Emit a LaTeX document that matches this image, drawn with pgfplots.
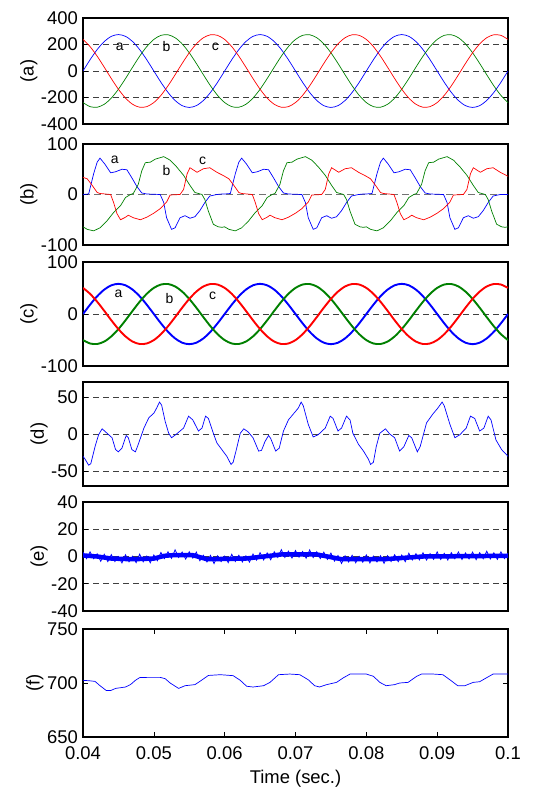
\documentclass[border=0pt]{standalone}
\usepackage{fontspec}
\setmainfont{Liberation Sans}
\usepackage{pgfplots}
\usepackage{pgfplotstable}
\pgfplotsset{compat=1.18}

\definecolor{pha}{RGB}{0,0,255}
\definecolor{phb}{RGB}{0,128,0}
\definecolor{phc}{RGB}{255,0,0}

% (a) source voltages, three phases
\pgfplotstableread{
t a b c
0.040 0 -238.2 238.2
0.041 85.0 -269.0 184.0
0.042 161.6 -273.5 111.8
0.043 222.5 -251.2 28.7
0.044 261.5 -204.4 -57.2
0.045 275.0 -137.5 -137.5
0.046 261.5 -57.2 -204.4
0.047 222.5 28.7 -251.2
0.048 161.6 111.8 -273.5
0.049 85.0 184.0 -269.0
0.050 0 238.2 -238.2
0.051 -85.0 269.0 -184.0
0.052 -161.6 273.5 -111.8
0.053 -222.5 251.2 -28.7
0.054 -261.5 204.4 57.2
0.055 -275.0 137.5 137.5
0.056 -261.5 57.2 204.4
0.057 -222.5 -28.7 251.2
0.058 -161.6 -111.8 273.5
0.059 -85.0 -184.0 269.0
0.060 0 -238.2 238.2
0.061 85.0 -269.0 184.0
0.062 161.6 -273.5 111.8
0.063 222.5 -251.2 28.7
0.064 261.5 -204.4 -57.2
0.065 275.0 -137.5 -137.5
0.066 261.5 -57.2 -204.4
0.067 222.5 28.7 -251.2
0.068 161.6 111.8 -273.5
0.069 85.0 184.0 -269.0
0.070 0 238.2 -238.2
0.071 -85.0 269.0 -184.0
0.072 -161.6 273.5 -111.8
0.073 -222.5 251.2 -28.7
0.074 -261.5 204.4 57.2
0.075 -275.0 137.5 137.5
0.076 -261.5 57.2 204.4
0.077 -222.5 -28.7 251.2
0.078 -161.6 -111.8 273.5
0.079 -85.0 -184.0 269.0
0.080 0 -238.2 238.2
0.081 85.0 -269.0 184.0
0.082 161.6 -273.5 111.8
0.083 222.5 -251.2 28.7
0.084 261.5 -204.4 -57.2
0.085 275.0 -137.5 -137.5
0.086 261.5 -57.2 -204.4
0.087 222.5 28.7 -251.2
0.088 161.6 111.8 -273.5
0.089 85.0 184.0 -269.0
0.090 0 238.2 -238.2
0.091 -85.0 269.0 -184.0
0.092 -161.6 273.5 -111.8
0.093 -222.5 251.2 -28.7
0.094 -261.5 204.4 57.2
0.095 -275.0 137.5 137.5
0.096 -261.5 57.2 204.4
0.097 -222.5 -28.7 251.2
0.098 -161.6 -111.8 273.5
0.099 -85.0 -184.0 269.0
0.100 0 -238.2 238.2
}\tabA

% (c) source currents after compensation
\pgfplotstableread{
t a b c
0.040 0 -50.2 50.2
0.041 17.9 -56.7 38.8
0.042 34.1 -57.7 23.6
0.043 46.9 -53.0 6.1
0.044 55.2 -43.1 -12.1
0.045 58.0 -29.0 -29.0
0.046 55.2 -12.1 -43.1
0.047 46.9 6.1 -53.0
0.048 34.1 23.6 -57.7
0.049 17.9 38.8 -56.7
0.050 0 50.2 -50.2
0.051 -17.9 56.7 -38.8
0.052 -34.1 57.7 -23.6
0.053 -46.9 53.0 -6.1
0.054 -55.2 43.1 12.1
0.055 -58.0 29.0 29.0
0.056 -55.2 12.1 43.1
0.057 -46.9 -6.1 53.0
0.058 -34.1 -23.6 57.7
0.059 -17.9 -38.8 56.7
0.060 0 -50.2 50.2
0.061 17.9 -56.7 38.8
0.062 34.1 -57.7 23.6
0.063 46.9 -53.0 6.1
0.064 55.2 -43.1 -12.1
0.065 58.0 -29.0 -29.0
0.066 55.2 -12.1 -43.1
0.067 46.9 6.1 -53.0
0.068 34.1 23.6 -57.7
0.069 17.9 38.8 -56.7
0.070 0 50.2 -50.2
0.071 -17.9 56.7 -38.8
0.072 -34.1 57.7 -23.6
0.073 -46.9 53.0 -6.1
0.074 -55.2 43.1 12.1
0.075 -58.0 29.0 29.0
0.076 -55.2 12.1 43.1
0.077 -46.9 -6.1 53.0
0.078 -34.1 -23.6 57.7
0.079 -17.9 -38.8 56.7
0.080 0 -50.2 50.2
0.081 17.9 -56.7 38.8
0.082 34.1 -57.7 23.6
0.083 46.9 -53.0 6.1
0.084 55.2 -43.1 -12.1
0.085 58.0 -29.0 -29.0
0.086 55.2 -12.1 -43.1
0.087 46.9 6.1 -53.0
0.088 34.1 23.6 -57.7
0.089 17.9 38.8 -56.7
0.090 0 50.2 -50.2
0.091 -17.9 56.7 -38.8
0.092 -34.1 57.7 -23.6
0.093 -46.9 53.0 -6.1
0.094 -55.2 43.1 12.1
0.095 -58.0 29.0 29.0
0.096 -55.2 12.1 43.1
0.097 -46.9 -6.1 53.0
0.098 -34.1 -23.6 57.7
0.099 -17.9 -38.8 56.7
0.100 0 -50.2 50.2
}\tabC

\tikzset{tag/.style={font=\fontsize{14}{16}\selectfont, inner sep=0pt, anchor=center}}

\pgfplotsset{
  panel/.style={
    scale only axis,
    width=425bp,
    xmin=0.04, xmax=0.1,
    axis line style={line width=1.1bp},
    every tick/.style={black, line width=0.6bp},
    major tick length=5bp,
    tick align=inside,
    xtick=\empty,
    ymajorgrids,
    major grid style={black!75, line width=0.7bp, dash pattern=on 6bp off 4bp},
    tick label style={font=\fontsize{18.5}{20}\selectfont},
    yticklabel style={inner sep=0pt, xshift=-5bp},
    ylabel style={font=\fontsize{18.5}{20}\selectfont},
    clip=true,
  },
}

\begin{document}
\begin{tikzpicture}
\path[use as bounding box] (0,0) rectangle (560bp,-790bp);

% ---------------- (a)
\begin{axis}[panel, at={(83bp,-18bp)}, anchor=north west, height=106bp,
  ymin=-400, ymax=400, ytick={-400,-200,0,200,400},
  yticklabels={-400,-200,0,200,400}, ylabel={(a)}]
\addplot[pha, line width=0.7bp, smooth] table[x=t, y=a] {\tabA};
\addplot[phb, line width=0.7bp, smooth] table[x=t, y=b] {\tabA};
\addplot[phc, line width=0.7bp, smooth] table[x=t, y=c] {\tabA};
\node[tag] at (axis cs:0.0452,185) {a};
\node[tag] at (axis cs:0.0518,185) {b};
\node[tag] at (axis cs:0.0587,185) {c};
\end{axis}

% ---------------- (b)
\begin{axis}[panel, at={(83bp,-144bp)}, anchor=north west, height=101bp,
  ymin=-100, ymax=100, ytick={-100,0,100},
  yticklabels={-100,0,100}, ylabel={(b)},
  major grid style={black!55, line width=1.2bp, dash pattern=on 7bp off 4bp}]
\addplot[pha, line width=0.7bp] coordinates {
(0.0400,0)(0.0408,1)(0.0415,41)(0.0420,64)(0.0424,72)(0.0431,60)(0.0439,43)(0.0446,45)
(0.0455,50)(0.0462,49)(0.0469,33)(0.0476,16)(0.0483,3)(0.0490,1)(0.0509,0)(0.0514,-16)
(0.0518,-46)(0.0525,-69)(0.0530,-66)(0.0537,-46)(0.0544,-42)(0.0551,-47)(0.0558,-44)
(0.0565,-32)(0.0572,-16)(0.0579,-3)(0.0589,0)(0.0596,1)
(0.0600,1)(0.0608,2)(0.0615,41)(0.0620,64)(0.0624,72)(0.0631,60)(0.0639,43)(0.0646,45)
(0.0655,50)(0.0662,49)(0.0669,33)(0.0676,16)(0.0683,3)(0.0690,1)(0.0709,0)(0.0714,-16)
(0.0718,-46)(0.0725,-69)(0.0730,-66)(0.0737,-46)(0.0744,-42)(0.0751,-47)(0.0758,-44)
(0.0765,-32)(0.0772,-16)(0.0779,-3)(0.0789,0)(0.0796,1)
(0.0800,1)(0.0808,2)(0.0815,41)(0.0820,64)(0.0824,72)(0.0831,60)(0.0839,43)(0.0846,45)
(0.0855,50)(0.0862,49)(0.0869,33)(0.0876,16)(0.0883,3)(0.0890,1)(0.0909,0)(0.0914,-16)
(0.0918,-46)(0.0925,-69)(0.0930,-66)(0.0937,-46)(0.0944,-42)(0.0951,-47)(0.0958,-44)
(0.0965,-32)(0.0972,-16)(0.0979,-3)(0.0989,0)(0.1000,0)
};
\addplot[phb, line width=0.7bp] coordinates {
(0.0400,-64)(0.0406,-69)(0.0415,-72)(0.0424,-66)(0.0434,-52)(0.0443,-36)(0.0453,-22)
(0.0460,-6)(0.0467,0)(0.0471,2)(0.0478,20)(0.0483,47)(0.0488,63)(0.0495,64)(0.0502,70)
(0.0514,75)(0.0523,68)(0.0532,55)(0.0542,38)(0.0551,18)(0.0558,4)(0.0568,0)(0.0572,-10)
(0.0577,-33)(0.0584,-59)(0.0591,-64)(0.0596,-65)
(0.0600,-64)(0.0606,-69)(0.0615,-72)(0.0624,-66)(0.0634,-52)(0.0643,-36)(0.0653,-22)
(0.0660,-6)(0.0667,0)(0.0671,2)(0.0678,20)(0.0683,47)(0.0688,63)(0.0695,64)(0.0702,70)
(0.0714,75)(0.0723,68)(0.0732,55)(0.0742,38)(0.0751,18)(0.0758,4)(0.0768,0)(0.0772,-10)
(0.0777,-33)(0.0784,-59)(0.0791,-64)(0.0796,-65)
(0.0800,-64)(0.0806,-69)(0.0815,-72)(0.0824,-66)(0.0834,-52)(0.0843,-36)(0.0853,-22)
(0.0860,-6)(0.0867,0)(0.0871,2)(0.0878,20)(0.0883,47)(0.0888,63)(0.0895,64)(0.0902,70)
(0.0914,75)(0.0923,68)(0.0932,55)(0.0942,38)(0.0951,18)(0.0958,4)(0.0968,0)(0.0972,-10)
(0.0977,-33)(0.0984,-59)(0.0991,-64)(0.0996,-65)(0.1000,-64)
};
\addplot[phc, line width=0.7bp] coordinates {
(0.0400,34)(0.0406,31)(0.0413,18)(0.0420,4)(0.0424,2)(0.0439,0)(0.0443,-15)(0.0448,-38)
(0.0453,-50)(0.0460,-45)(0.0464,-41)(0.0471,-46)(0.0481,-50)(0.0490,-45)(0.0500,-37)
(0.0509,-28)(0.0518,-15)(0.0523,-1)(0.0537,0)(0.0542,10)(0.0547,41)(0.0551,53)(0.0561,44)
(0.0570,51)(0.0579,53)(0.0589,44)(0.0596,39)
(0.0600,36)(0.0606,31)(0.0613,18)(0.0620,4)(0.0624,2)(0.0639,0)(0.0643,-15)(0.0648,-38)
(0.0653,-50)(0.0660,-45)(0.0664,-41)(0.0671,-46)(0.0681,-50)(0.0690,-45)(0.0700,-37)
(0.0709,-28)(0.0718,-15)(0.0723,-1)(0.0737,0)(0.0742,10)(0.0747,41)(0.0751,53)(0.0761,44)
(0.0770,51)(0.0779,53)(0.0789,44)(0.0796,39)
(0.0800,36)(0.0806,31)(0.0813,18)(0.0820,4)(0.0824,2)(0.0839,0)(0.0843,-15)(0.0848,-38)
(0.0853,-50)(0.0860,-45)(0.0864,-41)(0.0871,-46)(0.0881,-50)(0.0890,-45)(0.0900,-37)
(0.0909,-28)(0.0918,-15)(0.0923,-1)(0.0937,0)(0.0942,10)(0.0947,41)(0.0951,53)(0.0961,44)
(0.0970,51)(0.0979,53)(0.0989,44)(0.0996,39)(0.1000,36)
};
\node[tag] at (axis cs:0.0445,69) {a};
\node[tag] at (axis cs:0.0518,48) {b};
\node[tag] at (axis cs:0.0569,66) {c};
\end{axis}

% ---------------- (c)
\begin{axis}[panel, at={(83bp,-262bp)}, anchor=north west, height=104bp,
  ymin=-100, ymax=100, ytick={-100,0,100},
  yticklabels={-100,0,100}, ylabel={(c)}]
\addplot[pha, line width=1.9bp, smooth] table[x=t, y=a] {\tabC};
\addplot[phb, line width=1.9bp, smooth] table[x=t, y=b] {\tabC};
\addplot[phc, line width=1.9bp, smooth] table[x=t, y=c] {\tabC};
\node[tag] at (axis cs:0.0450,39) {a};
\node[tag] at (axis cs:0.0522,30) {b};
\node[tag] at (axis cs:0.0583,35) {c};
\end{axis}

% ---------------- (d)
\begin{axis}[panel, at={(83bp,-382bp)}, anchor=north west, height=104bp,
  ymin=-70, ymax=70, ytick={-50,0,50},
  yticklabels={-50,0,50}, ylabel={(d)}]
\addplot[pha, line width=0.7bp] coordinates {
(0.0400,-30)(0.0403,-34)(0.0408,-42)(0.0411,-40)(0.0417,-17)(0.0422,-1)(0.0427,7)
(0.0434,1)(0.0441,-5)(0.0446,-21)(0.0450,-24)(0.0455,-19)(0.0461,-2)(0.0464,-5)
(0.0469,-21)(0.0474,-24)(0.0478,-14)(0.0486,8)(0.0493,22)(0.0500,28)(0.0504,35)
(0.0508,43)(0.0511,39)(0.0516,17)(0.0521,1)(0.0525,-5)(0.0532,0)(0.0542,8)(0.0549,24)
(0.0555,19)(0.0563,4)(0.0568,8)(0.0573,24)(0.0577,21)(0.0584,1)(0.0589,-12)(0.0596,-21)
(0.0603,-30)(0.0609,-41)(0.0612,-38)(0.0617,-19)(0.0622,1)(0.0627,7)(0.0633,3)(0.0640,-5)
(0.0648,-23)(0.0652,-22)(0.0657,-10)(0.0662,-2)(0.0665,-6)(0.0672,-23)(0.0677,-19)
(0.0683,4)(0.0690,19)(0.0697,27)(0.0704,35)(0.0708,43)(0.0711,38)(0.0718,13)(0.0725,-4)
(0.0732,-1)(0.0742,8)(0.0749,24)(0.0753,21)(0.0760,4)(0.0765,8)(0.0772,24)(0.0777,19)
(0.0781,1)(0.0789,-14)(0.0796,-23)(0.0803,-34)(0.0806,-41)(0.0810,-38)(0.0814,-17)
(0.0819,1)(0.0827,7)(0.0833,0)(0.0840,-5)(0.0847,-23)(0.0853,-17)(0.0860,-2)(0.0864,-5)
(0.0872,-24)(0.0876,-17)(0.0885,15)(0.0894,27)(0.0901,35)(0.0907,43)(0.0910,38)
(0.0918,13)(0.0925,-5)(0.0932,-1)(0.0941,8)(0.0947,24)(0.0953,21)(0.0960,4)(0.0966,8)
(0.0972,24)(0.0976,19)(0.0983,-8)(0.0991,-21)(0.1000,-30)
};
\end{axis}

% ---------------- (e)
\begin{axis}[panel, at={(83bp,-502bp)}, anchor=north west, height=109bp,
  ymin=-40, ymax=40, ytick={-40,-20,0,20,40},
  yticklabels={-40,-20,0,20,40}, ylabel={(e)}]
\addplot[pha, line width=4.5bp] coordinates {
(0.040,0.8)(0.042,0)(0.044,-1.5)(0.047,-2)(0.050,-1.5)(0.0515,0.5)(0.053,1.1)
(0.0555,1)(0.0575,-2)(0.063,-1.5)(0.068,1.5)(0.073,1.5)(0.0765,-2)(0.0825,-2)
(0.088,0)(0.100,0.5)
};
\addplot[pha, line width=0.8bp] coordinates {
(0.0400,3.3)(0.0405,-1.6)(0.0410,3.4)(0.0415,-1.6)(0.0420,2.0)(0.0425,-3.5)(0.0430,1.6)
(0.0435,-3.7)(0.0440,1.4)(0.0445,-3.7)(0.0450,-0.1)(0.0455,-4.7)(0.0460,1.3)(0.0465,-3.9)
(0.0470,0.2)(0.0475,-4.5)(0.0480,1.7)(0.0485,-3.9)(0.0490,0.3)(0.0495,-4.6)(0.0500,1.1)
(0.0505,-3.1)(0.0510,3.0)(0.0515,-1.5)(0.0520,3.5)(0.0525,-1.4)(0.0530,4.9)(0.0535,-0.7)
(0.0540,3.3)(0.0545,-1.9)(0.0550,3.5)(0.0555,-1.2)(0.0560,3.2)(0.0565,-3.1)(0.0570,0.9)
(0.0575,-4.0)(0.0580,0.8)(0.0585,-5.2)(0.0590,0.5)(0.0595,-3.8)(0.0600,0.3)(0.0605,-4.5)
(0.0610,1.6)(0.0615,-3.7)(0.0620,0.9)(0.0625,-4.0)(0.0630,0.5)(0.0635,-4.1)(0.0640,1.8)
(0.0645,-2.7)(0.0650,2.8)(0.0655,-2.5)(0.0660,2.6)(0.0665,-2.4)(0.0670,3.5)(0.0675,-0.7)
(0.0680,5.0)(0.0685,-0.7)(0.0690,3.9)(0.0695,-1.1)(0.0700,4.4)(0.0705,-0.5)(0.0710,3.7)
(0.0715,-1.3)(0.0720,4.8)(0.0725,-0.8)(0.0730,3.5)(0.0735,-1.5)(0.0740,3.2)(0.0745,-2.1)
(0.0750,2.5)(0.0755,-3.4)(0.0760,0.7)(0.0765,-5.1)(0.0770,0.5)(0.0775,-4.0)(0.0780,0.9)
(0.0785,-4.6)(0.0790,0.1)(0.0795,-4.2)(0.0800,1.2)(0.0805,-4.7)(0.0810,0.3)(0.0815,-4.0)
(0.0820,0.6)(0.0825,-5.0)(0.0830,0.6)(0.0835,-3.7)(0.0840,1.3)(0.0845,-3.8)(0.0850,1.1)
(0.0855,-3.8)(0.0860,2.4)(0.0865,-2.5)(0.0870,2.1)(0.0875,-2.5)(0.0880,2.7)(0.0885,-2.6)
(0.0890,2.1)(0.0895,-2.1)(0.0900,3.4)(0.0905,-2.2)(0.0910,2.3)(0.0915,-2.6)(0.0920,2.8)
(0.0925,-1.7)(0.0930,3.3)(0.0935,-2.2)(0.0940,2.6)(0.0945,-1.8)(0.0950,3.2)(0.0955,-2.3)
(0.0960,2.8)(0.0965,-1.6)(0.0970,3.9)(0.0975,-1.8)(0.0980,2.7)(0.0985,-2.1)(0.0990,3.4)
(0.0995,-1.5)(0.1000,2.5)
};
\end{axis}

% ---------------- (f)
\begin{axis}[panel, at={(83bp,-629bp)}, anchor=north west, height=108bp,
  ymin=650, ymax=750, ytick={650,700,750},
  yticklabels={650,700,750}, ylabel={(f)},
  ymajorgrids=false,
  xtick={0.04,0.05,0.06,0.07,0.08,0.09,0.1},
  xticklabels={0.04,0.05,0.06,0.07,0.08,0.09,0.1},
  xticklabel style={inner sep=0pt, yshift=-9bp},
  xlabel={Time (sec.)},
  xlabel style={at={(rel axis cs:0.5,0)}, anchor=north, inner sep=0pt,
    yshift=-33bp, font=\fontsize{18.5}{20}\selectfont}]
\addplot[pha, line width=0.7bp] coordinates {
(0.0400,702.5)(0.0410,702)(0.0417,701.5)(0.0424,697.5)(0.0433,693)(0.0439,693)
(0.0446,695)(0.0460,696.3)(0.0467,698.5)(0.0474,702.5)(0.0480,705)(0.0490,705.2)
(0.0509,705.2)(0.0516,704)(0.0523,700)(0.0535,695)(0.0544,697.5)(0.0558,698.5)
(0.0565,701.5)(0.0577,707)(0.0594,707.7)(0.0612,706.8)(0.0622,702.5)(0.0631,697)
(0.0640,696.3)(0.0655,697.5)(0.0664,700.6)(0.0676,707.7)(0.0692,708.3)(0.0706,707.7)
(0.0718,703)(0.0727,697.5)(0.0734,696.3)(0.0744,698.5)(0.0758,700.6)(0.0767,704.6)
(0.0777,708.3)(0.0800,708.3)(0.0810,706.2)(0.0819,700.6)(0.0828,697.5)(0.0840,698.5)
(0.0847,700)(0.0859,700.6)(0.0871,706.2)(0.0878,708.3)(0.0894,708.3)(0.0908,707.7)
(0.0918,703)(0.0929,697.5)(0.0939,697.5)(0.0951,700.6)(0.0960,701.2)(0.0969,704.6)
(0.0979,708.3)(0.1000,708.3)
};
\end{axis}
\end{tikzpicture}
\end{document}
